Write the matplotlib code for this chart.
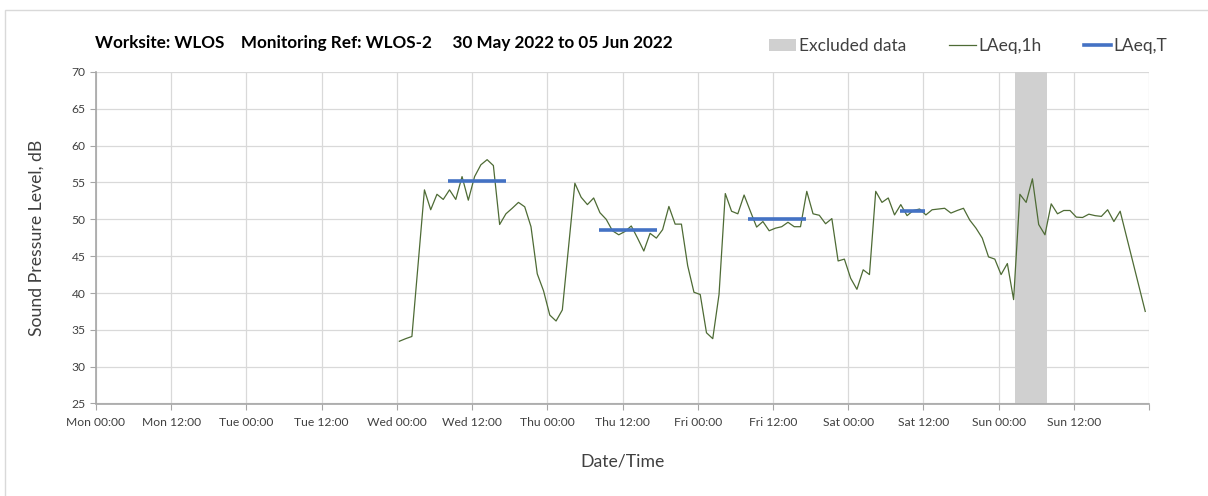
import numpy as np
import matplotlib
matplotlib.use("Agg")
import matplotlib.pyplot as plt
from matplotlib.patches import Patch, Rectangle
from matplotlib.lines import Line2D

plt.rcParams['font.family'] = ['Lato', 'DejaVu Sans']

# hourly LAeq,1h from Wed 00:00 (hours counted from Mon 00:00)
start_hour = 48
laeq_1h = [
    33.45, 33.8, 34.1, 44.0, 54.0, 51.3, 53.4, 52.7, 54.0, 52.7,
    55.8, 52.6, 55.8, 57.4, 58.1, 57.3, 49.3, 50.75, 51.5, 52.3,
    51.7, 49.0, 42.6, 40.3, 37.0, 36.2, 37.7, 46.3, 54.9, 53.0,
    52.0, 52.9, 50.9, 50.0, 48.45, 47.9, 48.35, 49.1, 47.45, 45.7,
    48.1, 47.45, 48.6, 51.75, 49.35, 49.35, 43.7, 40.1, 39.8, 34.6,
    33.8, 39.8, 53.5, 51.1, 50.75, 53.3, 51.1, 48.95, 49.7, 48.45,
    48.8, 49.0, 49.6, 49.0, 49.0, 53.8, 50.75, 50.55, 49.4, 50.1,
    44.35, 44.6, 42.0, 40.5, 43.15, 42.5, 53.8, 52.3, 52.9, 50.6,
    52.0, 50.5, 51.2, 51.4, 50.6, 51.3, 51.4, 51.5, 50.85, 51.2,
    51.5, 49.9, 48.8, 47.45, 44.9, 44.6, 42.5, 44.0, 39.1, 53.4,
    52.3, 55.5, 49.3, 47.9, 52.1, 50.75, 51.2, 51.2, 50.3, 50.25,
    50.7, 50.5, 50.4, 51.3, 49.7, 51.1, 47.7, 44.3, 40.9, 37.5,
]
hour_offset = 0.4

# working period averages: (start hour, end hour, level)
period_start = [56.2, 80.2, 104.05, 128.2]
period_end = [65.4, 89.5, 113.3, 132.2]
laeq_t = [55.27, 48.49, 50.1, 51.07]

# excluded window (hours from Mon 00:00)
excl_start = 146.7
excl_end = 151.7

tick_labels = ['Mon 00:00', 'Mon 12:00', 'Tue 00:00', 'Tue 12:00', 'Wed 00:00',
               'Wed 12:00', 'Thu 00:00', 'Thu 12:00', 'Fri 00:00', 'Fri 12:00',
               'Sat 00:00', 'Sat 12:00', 'Sun 00:00', 'Sun 12:00']

green = '#4e6b35'
blue = '#4472c4'
grid_c = '#d9d9d9'
axis_c = '#a6a6a6'
text_c = '#404040'

fig = plt.figure(figsize=(12.08, 4.96), dpi=100)
ax = fig.add_axes([96 / 1208, 1 - 403.5 / 496, (1149 - 96) / 1208, (403.5 - 72) / 496])

# outer frame
fig.patches.append(Rectangle((5 / 1208, -0.05), 1.1, 1 - 10 / 496 + 0.05,
                             transform=fig.transFigure, fill=False,
                             edgecolor='#d9d9d9', linewidth=1))

ax.axvspan(excl_start, excl_end, color='#d0d0d0', lw=0, zorder=1)

t = start_hour + np.arange(len(laeq_1h)) + hour_offset
ax.plot(t, laeq_1h, color=green, lw=0.9, zorder=3)

for s, e, v in zip(period_start, period_end, laeq_t):
    ax.plot([s, e], [v, v], color=blue, lw=2.6, solid_capstyle='butt', zorder=4)

ax.set_xlim(0, 168)
ax.set_ylim(25, 70)
ax.set_xticks(np.arange(0, 169, 12))
ax.set_xticklabels(tick_labels + [''])
ax.set_yticks(np.arange(25, 71, 5))
ax.tick_params(axis='both', colors=axis_c, labelcolor=text_c, labelsize=8.7, length=4)
ax.tick_params(axis='x', pad=6)
ax.grid(True, color=grid_c, lw=0.9)
ax.set_axisbelow(True)
for side in ['top', 'right']:
    ax.spines[side].set_visible(False)
for side in ['left', 'bottom']:
    ax.spines[side].set_color(axis_c)
    ax.spines[side].set_linewidth(1.2)

ax.set_ylabel('Sound Pressure Level, dB', fontsize=12.7, color=text_c, labelpad=19)
ax.set_xlabel('Date/Time', fontsize=12.7, color=text_c, labelpad=18)

fig.text(95 / 1208, 1 - 43 / 496,
         'Worksite: WLOS    Monitoring Ref: WLOS-2     30 May 2022 to 05 Jun 2022',
         fontsize=12.3, fontweight='bold', color='black', va='center', ha='left')

handles = [Patch(facecolor='#d0d0d0', edgecolor='none'),
           Line2D([], [], color=green, lw=0.9),
           Line2D([], [], color=blue, lw=2.6)]
fig.legend(handles, ['Excluded data', 'LAeq,1h', 'LAeq,T'], loc='center right',
           bbox_to_anchor=(1176 / 1208, 1 - 46 / 496), ncol=3, frameon=False,
           fontsize=12.5, handlelength=1.55, handletextpad=0.15, columnspacing=2.45,
           labelcolor=text_c, borderpad=0)

fig.savefig('out.png', dpi=100)
